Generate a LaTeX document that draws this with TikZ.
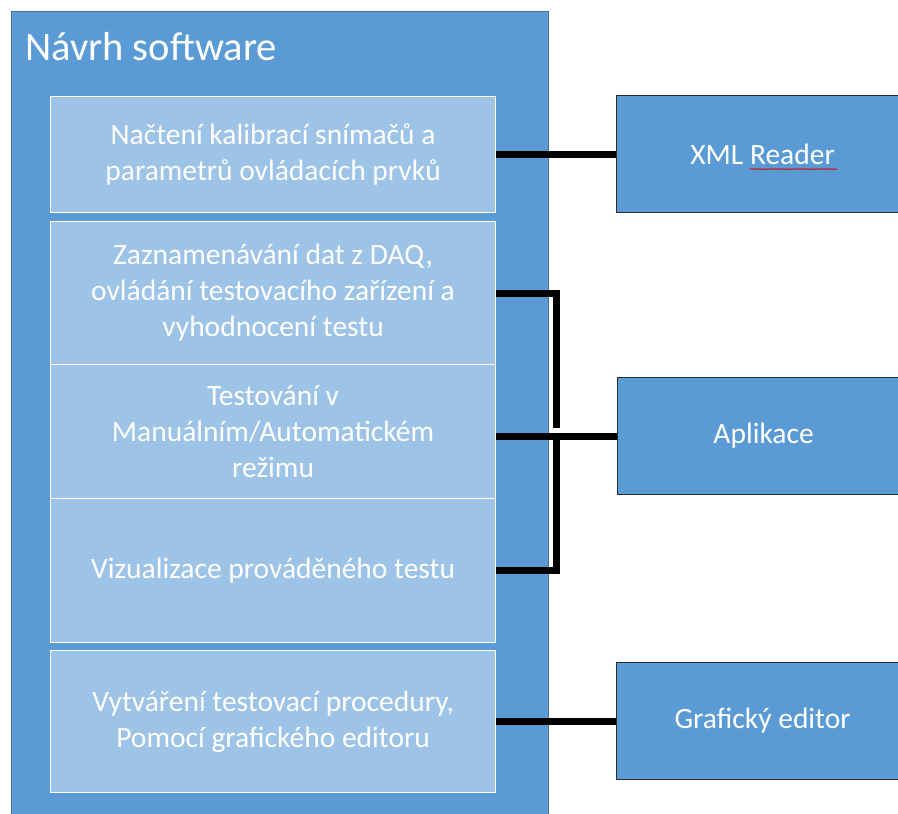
\documentclass[tikz,border=0pt]{standalone}
\usepackage{fontspec}
\setmainfont{Carlito}
\usetikzlibrary{decorations.pathmorphing}
\definecolor{outerblue}{HTML}{5B9BD5}
\definecolor{innerblue}{HTML}{9DC3E6}
\definecolor{outerline}{HTML}{41719C}
\definecolor{sideline}{HTML}{2B2B2B}
\begin{document}
\begin{tikzpicture}[x=1pt,y=-1pt,
  outerbox/.style={draw=outerline, fill=outerblue, line width=1pt, anchor=north west, inner sep=0pt},
  innerbox/.style={draw=white, fill=innerblue, line width=1.2pt, anchor=north west, minimum width=445pt, inner sep=0pt, text=white, align=center, font=\fontsize{29.5}{36}\selectfont},
  sidebox/.style={draw=sideline, fill=outerblue, line width=1.2pt, anchor=north west, minimum width=292pt, minimum height=117pt, inner sep=0pt, text=white, font=\fontsize{29.5}{36}\selectfont},
  conn/.style={line width=7pt, draw=black}]
\useasboundingbox (0,0) rectangle (898,814);
\clip (0,0) rectangle (898,814);
% outer container
\node[outerbox, minimum width=537pt, minimum height=830pt] (sw) at (10.5,11) {};
\node[anchor=base west, text=white, font=\fontsize{40.5}{48}\selectfont, inner sep=0pt] (title) at (25,60) {Návrh software};
% inner boxes
\node[innerbox, minimum height=116pt] (b1) at (50,96) {Načtení kalibrací snímačů a\\parametrů ovládacích prvků};
\node[innerbox, minimum height=143pt] (b2) at (50,221) {Zaznamenávání dat z DAQ,\\ovládání testovacího zařízení a\\vyhodnocení testu};
\node[innerbox, minimum height=134pt] (b3) at (50,364) {Testování v\\Manuálním/Automatickém\\režimu};
\node[innerbox, minimum height=144pt] (b4) at (50,498) {Vizualizace prováděného testu};
\node[innerbox, minimum height=142pt] (b5) at (50,650) {Vytváření testovací procedury,\\Pomocí grafického editoru};
% side boxes
\node[sidebox] (xml) at (616,95) {XML Reader};
\node[sidebox] (app) at (617,377) {Aplikace};
\node[sidebox] (graf) at (616,662) {Grafický editor};
% spell-check underline
\draw[red!85!black, line width=0.6pt, decorate, decoration={snake, amplitude=0.7pt, segment length=3pt}]
  ([xshift=-13pt,yshift=-15pt]xml.center) -- ([xshift=75pt,yshift=-15pt]xml.center);
% connectors
\coordinate (j) at (556,436);
\draw[conn] (b1.east |- xml.west) -- (xml.west);
\draw[conn] (b2.east) -| ([yshift=8pt]j);
\draw[conn] (app.west) -- (app.west -| b3.east);
\draw[conn] (j) |- (b4.east);
\draw[conn] (b5.east |- graf.west) -- (graf.west);
\end{tikzpicture}
\end{document}
